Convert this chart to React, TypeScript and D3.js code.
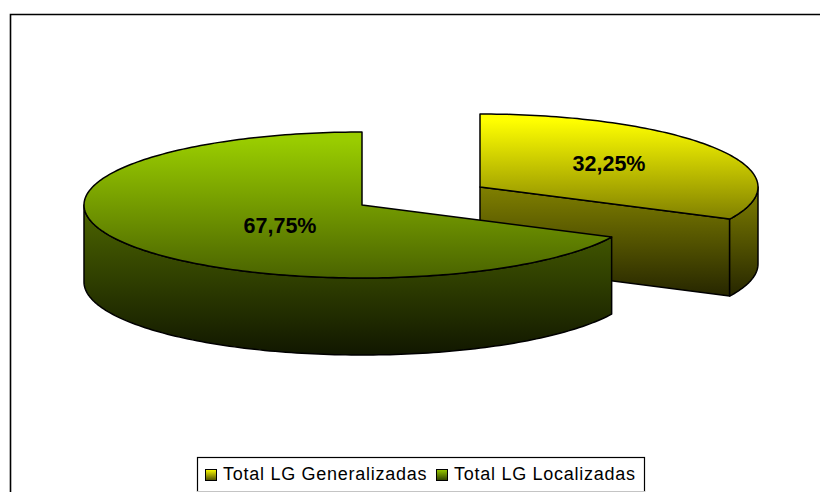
import React from "react";
import * as d3 from "d3";

const categories = ["Total LG Generalizadas", "Total LG Localizadas"];
const shares = [32.25, 67.75];
const shareLabels = ["32,25%", "67,75%"];

const W = 820;
const H = 492;
const RX = 278;
const RY = 73;
const DEPTH = 77;
const TAU = Math.PI * 2;

// each slice is pulled apart, so it gets its own centre
const centres = [
  { cx: 480, cy: 187 },
  { cx: 362, cy: 205 },
];
const labelPos = [
  { x: 609, y: 171 },
  { x: 280, y: 233 },
];

const colors = [
  { topA: "#ffff00", topB: "#808000", sideA: "#808000", sideB: "#262600", keyB: "#4d4d00" },
  { topA: "#99cc00", topB: "#4a6300", sideA: "#4d6600", sideB: "#111700", keyB: "#2e3d00" },
];

const pie = d3
  .pie<number>()
  .sort(null)
  .startAngle(0)
  .endAngle(TAU);

const slices = pie(shares);

// angle measured clockwise from 12 o'clock, like d3.arc
const px = (c, a) => c.cx + RX * Math.sin(a);
const py = (c, a) => c.cy - RY * Math.cos(a);

function arcPoints(c, a0, a1, dy = 0) {
  const pts: [number, number][] = [];
  const n = Math.max(2, Math.ceil(Math.abs(a1 - a0) / 0.02));
  for (let i = 0; i <= n; i++) {
    const a = a0 + ((a1 - a0) * i) / n;
    pts.push([px(c, a), py(c, a) + dy]);
  }
  return pts;
}

const line = d3.line();

function topPath(c, s) {
  return line([[c.cx, c.cy], ...arcPoints(c, s.startAngle, s.endAngle)]) + "Z";
}

// the outer wall only shows for the front half of the ellipse
function rimPath(c, s) {
  const a0 = Math.max(s.startAngle, Math.PI / 2);
  const a1 = Math.min(s.endAngle, (Math.PI * 3) / 2);
  const front = arcPoints(c, a0, a1);
  const back = arcPoints(c, a1, a0, DEPTH);
  return line([...front, ...back]) + "Z";
}

function cutPath(c, a) {
  return (
    line([
      [c.cx, c.cy],
      [px(c, a), py(c, a)],
      [px(c, a), py(c, a) + DEPTH],
      [c.cx, c.cy + DEPTH],
    ]) + "Z"
  );
}

const legendX = d3.scaleOrdinal<string, number>().domain(categories).range([205, 436]);

const App = () => {
  const yellow = slices[0];
  const green = slices[1];
  const cY = centres[0];
  const cG = centres[1];

  return (
    <svg
      width={W}
      height={H}
      viewBox={`0 0 ${W} ${H}`}
      style={{ position: "fixed", left: 0, top: 0, background: "#fff" }}
    >
      <defs>
        {colors.map((c, i) => (
          <React.Fragment key={i}>
            <linearGradient id={`top${i}`} x1="0" y1="0" x2="0" y2="1">
              <stop offset="0.06" stopColor={c.topA} />
              <stop offset="1" stopColor={c.topB} />
            </linearGradient>
            <linearGradient id={`side${i}`} x1="0" y1="0" x2="0" y2="1">
              <stop offset="0" stopColor={c.sideA} />
              <stop offset="1" stopColor={c.sideB} />
            </linearGradient>
            <linearGradient id={`key${i}`} x1="0" y1="0" x2="0" y2="1">
              <stop offset="0" stopColor={c.topA} />
              <stop offset="1" stopColor={c.keyB} />
            </linearGradient>
          </React.Fragment>
        ))}
      </defs>

      {/* frame runs off the right and bottom of the picture */}
      <path d={`M10.5,${H} V14.5 H${W}`} fill="none" stroke="#000" strokeWidth={1.6} />

      <g stroke="#000" strokeWidth={1.5} strokeLinejoin="round">
        <path d={cutPath(cY, yellow.endAngle)} fill="url(#side0)" />
        <path d={rimPath(cY, yellow)} fill="url(#side0)" />
        <path d={topPath(cY, yellow)} fill="url(#top0)" />

        <path d={rimPath(cG, green)} fill="url(#side1)" />
        <path d={topPath(cG, green)} fill="url(#top1)" />
      </g>

      <g
        fontFamily="'Liberation Sans', Arial, sans-serif"
        fontWeight="bold"
        fontSize={21.5}
        textAnchor="middle"
        fill="#000"
      >
        {shareLabels.map((t, i) => (
          <text key={t} x={labelPos[i].x} y={labelPos[i].y}>
            {t}
          </text>
        ))}
      </g>

      <rect x={197.5} y={457.5} width={447} height={40} fill="#fff" stroke="#000" strokeWidth={1.2} />
      <rect x={197} y={491} width={448} height={1} fill="#c4c4c4" />
      {categories.map((name, i) => (
        <g key={name}>
          <rect
            x={legendX(name)! + 0.5}
            y={469.5}
            width={11}
            height={11}
            fill={`url(#key${i})`}
            stroke="#000"
            strokeWidth={1}
          />
          <text
            x={legendX(name)! + 18}
            y={480}
            fontFamily="'Liberation Sans', Arial, sans-serif"
            fontSize={18}
            letterSpacing={0.73}
            fill="#000"
          >
            {name}
          </text>
        </g>
      ))}
    </svg>
  );
};

export default App;
